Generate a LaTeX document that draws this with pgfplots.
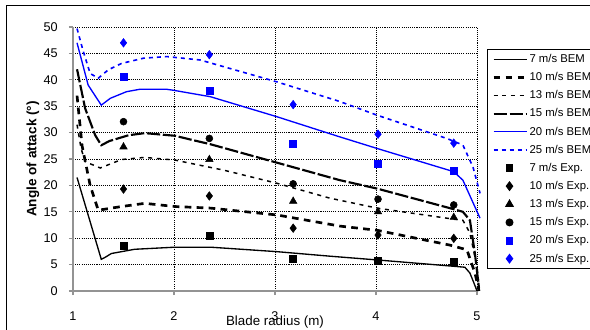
\documentclass[border=0pt]{standalone}
\usepackage{fontspec}
\setmainfont{Liberation Sans}
\usepackage{pgfplots}
\pgfplotsset{compat=1.18}
\definecolor{xlblue}{RGB}{0,0,255}
\begin{document}
\begin{tikzpicture}
\path[use as bounding box] (0pt,0pt) rectangle (442.5pt,246.75pt);
\draw[line width=0.75pt] (4.5pt,-5pt) -- (4.5pt,242.25pt) -- (450pt,242.25pt);
\begin{axis}[
  at={(54.75pt,28.5pt)}, anchor=south west,
  scale only axis, width=303pt, height=198pt,
  xmin=1, xmax=5, ymin=0, ymax=50,
  xtick={1,2,3,4,5}, ytick={0,5,...,50},
  axis x line*=bottom, axis y line*=left,
  axis line style={draw=gray!85, line width=1pt, -},
  grid=major, major grid style={black, dash pattern=on 0.8pt off 0.8pt, line width=0.6pt},
  tick align=outside, major tick length=3pt, tick style={gray!85, line width=0.8pt},
  clip=false,
  /pgf/number format/assume math mode=true,
  xticklabel style={font=\fontsize{9.5}{11}\selectfont, anchor=center, inner sep=0pt, yshift=-15.75pt},
  yticklabel style={font=\fontsize{9.5}{11}\selectfont, anchor=east, inner sep=0pt, xshift=-8.25pt},
  xlabel={Blade radius (m)},
  ylabel={Angle of attack (°)},
  every axis x label/.style={at={(axis description cs:0.5,-0.117)}, anchor=center, font=\fontsize{10}{12}\selectfont},
  every axis y label/.style={at={(axis description cs:-0.099,0.5)}, rotate=90, anchor=center, font=\bfseries\fontsize{10.2}{12}\selectfont},
  legend style={at={(1.0248,0.9167)}, anchor=north west, draw=black, line width=0.75pt, fill=white,
    font=\fontsize{8.5}{10}\selectfont, row sep=2.6pt, inner xsep=3.5pt, inner ysep=1.8pt,
    nodes={inner sep=1pt, text height=7pt, text depth=2pt},
    /tikz/every even column/.append style={column sep=0.5pt}},
  legend cell align=left,
  legend image code/.code={\draw[#1] (0pt,0pt) -- (25pt,0pt);},
]
% BEM curves
\addplot[black, line width=1pt] coordinates {
(1.04,21.5) (1.28,6.0) (1.32,6.4) (1.38,7.1) (1.61,7.9) (2.01,8.3) (2.36,8.3) (3.02,7.45) (3.54,6.6) (4.0,5.9) (4.76,4.7) (4.88,4.5) (4.93,3.4) (4.97,1.5) (5.0,0)};
\addlegendentry{7 m/s BEM}
\addplot[black, line width=2pt, dash pattern=on 5pt off 4pt] coordinates {
(1.04,37) (1.09,27.5) (1.17,20) (1.25,15.3) (1.48,16.0) (1.71,16.6) (2.01,16.0) (2.36,15.7) (3.02,14.4) (3.64,12.3) (4.01,11.5) (4.73,8.7) (4.9,7.8) (4.98,3.4) (5.02,0)};
\addlegendentry{10 m/s BEM}
\addplot[black, line width=1.1pt, dash pattern=on 3pt off 3.5pt] coordinates {
(1.04,31.5) (1.08,27) (1.12,24.5) (1.27,23.3) (1.48,24.9) (1.71,25.3) (2.01,24.8) (2.16,24.2) (2.49,22.9) (3.02,20.4) (3.54,17.6) (4.01,15.7) (4.77,13.6) (4.86,13.4) (4.93,11) (5.0,4.6) (5.02,1)};
\addlegendentry{13 m/s BEM}
\addplot[black, line width=1.6pt, dash pattern=on 10pt off 2pt] coordinates {
(1.04,42) (1.12,34.6) (1.22,29.5) (1.28,27.6) (1.36,28.4) (1.55,29.5) (1.71,29.9) (2.01,29.4) (2.16,28.7) (2.36,27.8) (3.02,24.3) (3.64,21.0) (4.01,19.4) (4.73,15.7) (4.86,15.0) (4.93,13.4) (4.98,7) (5.02,0.5)};
\addlegendentry{15 m/s BEM}
\addplot[xlblue, line width=1pt] coordinates {
(1.04,47) (1.15,39) (1.28,35.2) (1.37,36.5) (1.53,37.75) (1.66,38.2) (1.93,38.2) (2.0,38.0) (2.36,36.8) (3.02,33.0) (3.64,29.2) (4.01,27.0) (4.77,22.6) (4.86,21.0) (5.03,13.8)};
\addlegendentry{20 m/s BEM}
\addplot[xlblue, line width=1.2pt, dash pattern=on 3pt off 3pt] coordinates {
(1.04,49.7) (1.10,45.5) (1.17,41.2) (1.25,40.3) (1.35,41.9) (1.48,43.1) (1.70,44.1) (1.93,44.4) (2.26,43.75) (3.02,39.6) (3.64,35.9) (4.01,33.3) (4.70,28.9) (4.86,27.65) (4.96,23.5) (5.03,18.5)};
\addlegendentry{25 m/s BEM}
% Experimental points
\pgfplotsset{mlegend/.style={legend image code/.code={\path (0pt,0pt) (25pt,0pt); \draw[##1, only marks] plot coordinates {(12pt,0pt)};}}}
\addplot[only marks, mark=square*, mark size=2.6pt, black, mlegend] coordinates {
(1.5,8.5) (2.35,10.5) (3.18,6.06) (4.02,5.7) (4.77,5.55)};
\addlegendentry{7 m/s Exp.}
\addplot[only marks, mark=diamond*, mark size=3.2pt, black, mlegend] coordinates {
(1.5,19.3) (2.35,18.0) (3.18,11.9) (4.02,10.6) (4.77,9.97)};
\addlegendentry{10 m/s Exp.}
\addplot[only marks, mark=triangle*, mark size=3.2pt, black, mlegend] coordinates {
(1.5,27.3) (2.35,24.9) (3.18,17.0) (4.02,15.0) (4.77,13.95)};
\addlegendentry{13 m/s Exp.}
\addplot[only marks, mark=*, mark size=2.6pt, black, mlegend] coordinates {
(1.5,32.07) (2.35,28.9) (3.18,20.3) (4.02,17.4) (4.77,16.3)};
\addlegendentry{15 m/s Exp.}
\addplot[only marks, mark=square*, mark size=2.6pt, xlblue, mlegend] coordinates {
(1.5,40.65) (2.35,37.9) (3.18,27.97) (4.02,24.05) (4.77,22.7)};
\addlegendentry{20 m/s Exp.}
\addplot[only marks, mark=diamond*, mark size=3.2pt, xlblue, mlegend] coordinates {
(1.5,47.0) (2.35,44.75) (3.18,35.3) (4.02,29.7) (4.77,28.0)};
\addlegendentry{25 m/s Exp.}
\end{axis}
\end{tikzpicture}
\end{document}
